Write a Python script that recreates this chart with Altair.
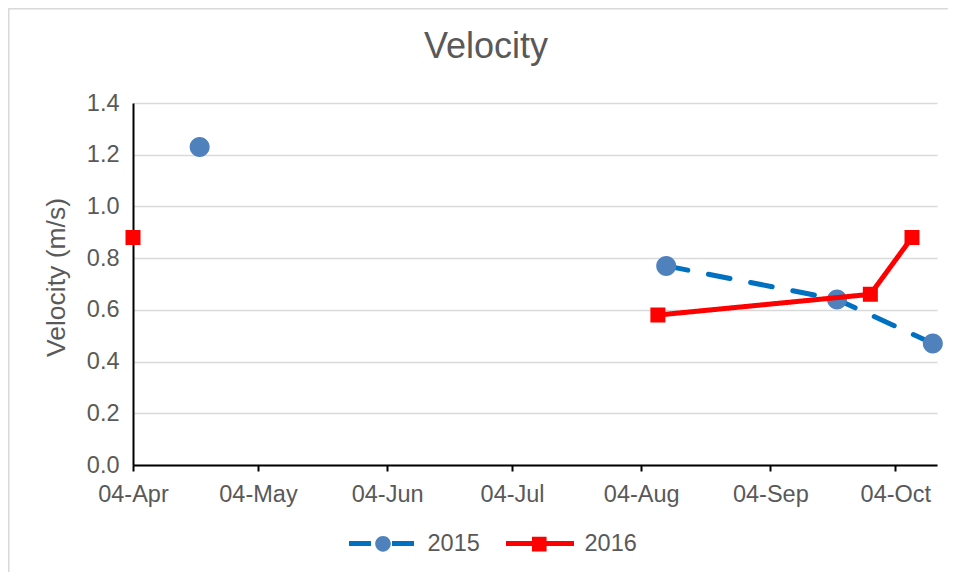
import altair as alt
import pandas as pd

# ---- data ----
chart_title = ["Velocity"]
y_title = "Velocity (m/s)"
series = ["2015", "2016"]

dates_2015 = ["04-20", "08-10", "09-20", "10-13"]
vel_2015 = [1.23, 0.77, 0.64, 0.47]
seg_2015 = [0, 1, 1, 1]

dates_2016 = ["04-04", "08-08", "09-28", "10-08"]
vel_2016 = [0.88, 0.58, 0.66, 0.88]
seg_2016 = [0, 1, 1, 1]

tick_months = [4, 5, 6, 7, 8, 9, 10]
y_tick_values = [0.0, 0.2, 0.4, 0.6, 0.8, 1.0, 1.2, 1.4]

BASE_YEAR = 2015  # common calendar year for the day-of-year axis


def frame(year, dates, vals, segs):
    return pd.DataFrame({
        "date": [f"{BASE_YEAR}/" + d.replace("-", "/") for d in dates],
        "v": vals,
        "year": [year] * len(dates),
        "year_p": ["p" + year] * len(dates),
        "seg": [f"{year}_{s}" for s in segs],
    })


df15 = frame("2015", dates_2015, vel_2015, seg_2015)
df16 = frame("2016", dates_2016, vel_2016, seg_2016)

GRAY = "#595959"
FONT = "Liberation Sans"
TICK_FS = 23.5

x_scale = alt.Scale(domain=[alt.DateTime(year=BASE_YEAR, month=4, date=4),
                            alt.DateTime(year=BASE_YEAR, month=10, date=14)], nice=False)
y_scale = alt.Scale(domain=[0, 1.4], nice=False, zero=True)

x_axis = alt.Axis(values=[alt.DateTime(year=BASE_YEAR, month=m, date=4) for m in tick_months],
                  format="%d-%b", formatType="time", grid=False,
                  domainColor="black", domainWidth=2, tickColor="black", tickWidth=2,
                  tickSize=6, labelFontSize=TICK_FS, labelColor=GRAY, labelPadding=11,
                  labelFlush=False, labelOverlap=False, title=None)
y_axis = alt.Axis(values=y_tick_values, format=".1f", grid=True, gridColor="#d9d9d9",
                  gridWidth=1.5, domainColor="black", domainWidth=2, ticks=False,
                  labelFontSize=TICK_FS, labelColor=GRAY, labelPadding=14,
                  title=y_title, titleFontSize=26.5, titleFontWeight="normal",
                  titleColor=GRAY, titleAngle=-90, titleX=-77, titleY=174,
                  titleAlign="center", titleBaseline="middle")

stroke_scale = alt.Scale(domain=series, range=["#0070C0", "#FF0000"])
dash_scale = alt.Scale(domain=series, range=[[22, 21], [1, 0]])

p_domain = ["p" + s for s in series]
# a zero-area span (-1..1) keeps the marker legend entries as wide as the line entries
span = "M-1,0H1"
circle_path = span + "M-0.23,0A0.23,0.23,0,1,0,0.23,0A0.23,0.23,0,1,0,-0.23,0Z"
square_path = span + "M-0.215,-0.215H0.215V0.215H-0.215Z"
fill_scale = alt.Scale(domain=p_domain, range=["#4F81BD", "#FF0000"])
shape_scale = alt.Scale(domain=p_domain, range=[circle_path, square_path])

LEG_X, LEG_Y = 213.5, 404
LABEL_W = 2.224 * TICK_FS   # width of a 4-digit label
COL_PAD = 15
common_leg = dict(orient="none", legendX=LEG_X, legendY=LEG_Y, direction="horizontal",
                  title=None, symbolSize=4624, labelOffset=8,
                  labelFontSize=TICK_FS, padding=0, symbolStrokeWidth=5)
line_legend = alt.Legend(symbolType=span, labelColor=GRAY, columnPadding=COL_PAD, **common_leg)
point_legend = alt.Legend(symbolStrokeColor="transparent", labelExpr="''",
                          columnPadding=COL_PAD + LABEL_W, **common_leg)


def line_layer(df):
    return alt.Chart(df).mark_line(strokeWidth=5, strokeCap="round", strokeJoin="round").encode(
        x=alt.X("date:T", scale=x_scale, axis=x_axis),
        y=alt.Y("v:Q", scale=y_scale, axis=y_axis),
        stroke=alt.Stroke("year:N", scale=stroke_scale, legend=line_legend),
        strokeDash=alt.StrokeDash("year:N", scale=dash_scale, legend=line_legend),
        detail="seg:N",
    )


def point_layer(df, size):
    return alt.Chart(df).mark_point(filled=True, opacity=1, strokeWidth=0, size=size).encode(
        x=alt.X("date:T", scale=x_scale, axis=x_axis),
        y=alt.Y("v:Q", scale=y_scale, axis=y_axis),
        fill=alt.Fill("year_p:N", scale=fill_scale, legend=point_legend),
        shape=alt.Shape("year_p:N", scale=shape_scale, legend=point_legend),
    )


border = alt.Chart(pd.DataFrame({"frame": [0]})).mark_rect(
    fill="white", fillOpacity=0, stroke="#d9d9d9", strokeWidth=1.5
).encode(x=alt.value(-124.25), x2=alt.value(830), y=alt.value(-94.25), y2=alt.value(480))

title = alt.Chart(pd.DataFrame({"t": chart_title})).mark_text(
    fontSize=36, color=GRAY, font=FONT, align="center", baseline="alphabetic"
).encode(text="t:N", x=alt.value(353), y=alt.value(-45))

chart = alt.layer(
    border,
    line_layer(df15), point_layer(df15, 7561),
    line_layer(df16), point_layer(df16, 4867),
    title,
).properties(
    width=804, height=362,
    autosize=alt.AutoSizeParams(type="none"),
    padding={"left": 125, "top": 95, "right": 11, "bottom": 107},
).configure(font=FONT).configure_view(strokeWidth=0)

chart.save("out.html", embed_options={"renderer": "svg", "actions": False})
